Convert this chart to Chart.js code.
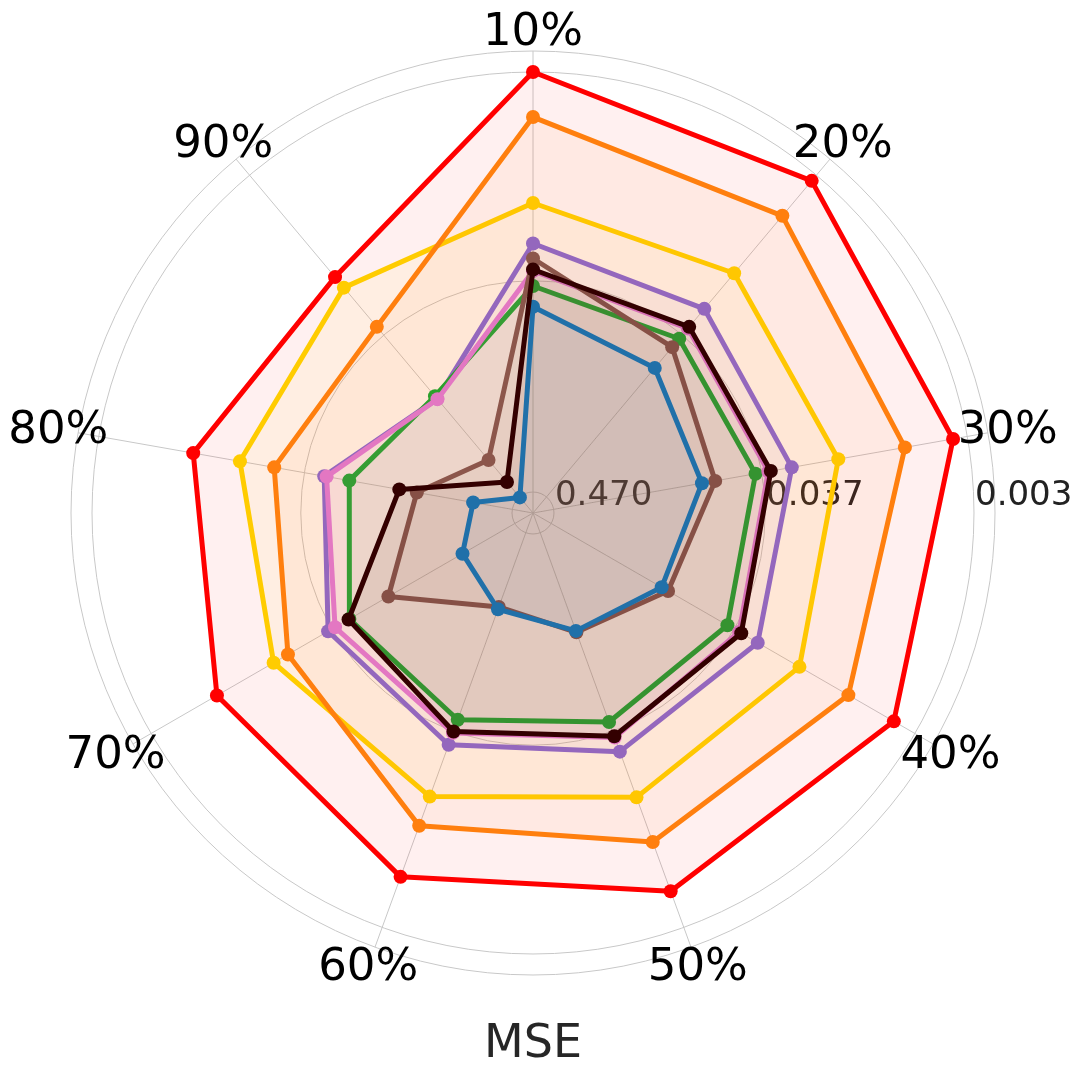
<!DOCTYPE html>
<html>
<head>
<meta charset="utf-8">
<script src="https://cdn.jsdelivr.net/npm/chart.js@4.4.1/dist/chart.umd.min.js"></script>
<style>
    html, body { margin: 0; padding: 0; background: #ffffff; }
    #wrap { width: 1080px; height: 1079px; }
</style>
</head>
<body>
<div id="wrap"><canvas id="mseRadar"></canvas></div>
<script>
// axis categories and radial tick labels (MSE, log scale, lower is further out)
const categories = ['10%', '20%', '30%', '40%', '50%', '60%', '70%', '80%', '90%'];
const tickLabels = ['0.470', '0.037', '0.003'];
const axisRange = [0.605, 0.00233]; // MSE at the centre, MSE at the rim

// MSE per method, one value per category
const mseRed    = [0.00300, 0.00328, 0.00357, 0.00402, 0.00477, 0.00573, 0.00749, 0.00952, 0.01487];
const mseOrange = [0.00516, 0.00568, 0.00643, 0.00756, 0.00895, 0.01103, 0.02009, 0.02561, 0.03250];
const mseYellow = [0.01451, 0.01400, 0.01451, 0.01492, 0.01586, 0.01602, 0.01646, 0.01685, 0.01755];
const msePurple = [0.02363, 0.02449, 0.02561, 0.02665, 0.02848, 0.03112, 0.03511, 0.04719, 0.1007];
const msePink   = [0.03289, 0.03329, 0.03410, 0.03451, 0.03410, 0.03621, 0.03866, 0.04858, 0.1012];
const mseGreen  = [0.03940, 0.03917, 0.03989, 0.04061, 0.04165, 0.04287, 0.04719, 0.06409, 0.09658];
const mseBrown  = [0.02830, 0.04471, 0.06531, 0.09261, 0.1313, 0.1816, 0.08113, 0.1463, 0.2631];
const mseBlack  = [0.03230, 0.03250, 0.03309, 0.03350, 0.03468, 0.03688, 0.04663, 0.1181, 0.3717];
const mseBlue   = [0.05053, 0.06194, 0.07676, 0.1012, 0.1337, 0.1764, 0.2272, 0.2911, 0.4735];

const seriesColors = {
    red: '#ff0000',
    orange: '#ff7f0e',
    yellow: '#ffcc00',
    purple: '#9467bd',
    pink: '#e377c2',
    green: '#2ca02c',
    brown: '#8c564b',
    black: '#330000',
    blue: '#1f77b4'
};

// Chart.js has no log radial scale, so plot -log10(MSE)
const toScore = v => -Math.log10(v);

function withAlpha(hex, a) {
    const n = parseInt(hex.slice(1), 16);
    return 'rgba(' + (n >> 16) + ', ' + ((n >> 8) & 255) + ', ' + (n & 255) + ', ' + a + ')';
}

// first entry is drawn on top
const seriesOrder = [
    ['black', mseBlack],
    ['blue', mseBlue],
    ['brown', mseBrown],
    ['pink', msePink],
    ['green', mseGreen],
    ['purple', msePurple],
    ['orange', mseOrange],
    ['yellow', mseYellow],
    ['red', mseRed]
];

const datasets = seriesOrder.map(([name, values]) => ({
    label: name,
    data: values.map(toScore),
    borderColor: seriesColors[name],
    backgroundColor: withAlpha(seriesColors[name], 0.06),
    fill: true,
    borderWidth: 5,
    borderJoinStyle: 'round',
    pointRadius: 7,
    pointHoverRadius: 7,
    pointBorderWidth: 0,
    pointBackgroundColor: seriesColors[name],
    pointBorderColor: seriesColors[name]
}));

// tick labels and category labels drawn at matplotlib-like spots
const radarText = {
    id: 'radarText',
    beforeDatasetsDraw(chart) {
        const scale = chart.scales.r;
        const ctx = chart.ctx;
        ctx.save();
        ctx.font = '34px "DejaVu Sans"';
        ctx.fillStyle = '#222222';
        ctx.textAlign = 'left';
        ctx.textBaseline = 'middle';
        tickLabels.forEach(t => {
            const d = scale.getDistanceFromCenterForValue(toScore(parseFloat(t)));
            ctx.fillText(t, scale.xCenter + d + 1, scale.yCenter - 17);
        });
        ctx.font = '45px "DejaVu Sans"';
        ctx.fillStyle = '#000000';
        ctx.textAlign = 'center';
        categories.forEach((c, i) => {
            const p = scale.getPointPosition(i, scale.drawingArea + 20);
            ctx.fillText(c, p.x, p.y + 2);
        });
        ctx.restore();
    }
};

new Chart(document.getElementById('mseRadar'), {
    type: 'radar',
    data: {
        labels: categories,
        datasets: datasets
    },
    options: {
        responsive: true,
        maintainAspectRatio: false,
        animation: false,
        layout: {
            padding: { left: 71, right: 85, top: 51, bottom: 0 }
        },
        plugins: {
            legend: { display: false },
            tooltip: { enabled: false },
            title: {
                display: true,
                text: 'MSE',
                position: 'bottom',
                color: '#262626',
                font: { family: "'DejaVu Sans', sans-serif", size: 46, weight: 'normal' },
                padding: { top: 42, bottom: 6 }
            }
        },
        scales: {
            r: {
                min: toScore(axisRange[0]),
                max: toScore(axisRange[1]),
                afterBuildTicks: scale => {
                    const vals = [scale.min].concat(tickLabels.map(t => toScore(parseFloat(t))), [scale.max]);
                    scale.ticks = vals.map(v => ({ value: v }));
                },
                ticks: { display: false },
                pointLabels: { display: false },
                grid: { circular: true, color: '#c8c8c8', lineWidth: 1 },
                angleLines: { color: '#c8c8c8', lineWidth: 1 }
            }
        }
    },
    plugins: [radarText]
});
</script>
</body>
</html>
